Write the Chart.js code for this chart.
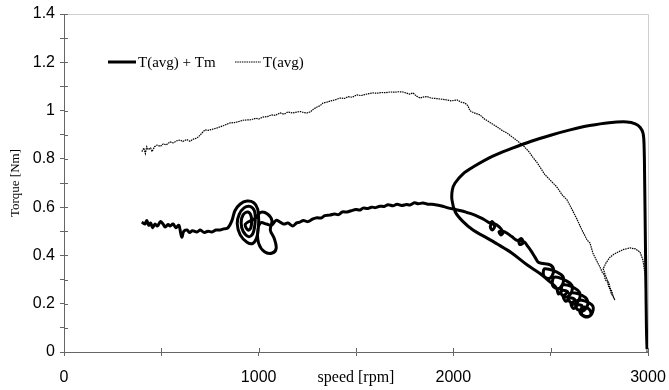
<!DOCTYPE html>
<html>
<head>
<meta charset="utf-8">
<script src="https://cdn.jsdelivr.net/npm/chart.js@4.4.1/dist/chart.umd.min.js"></script>
<style>
  html, body { margin: 0; padding: 0; background: #fff; }
  #torqueChart { display: block; }
</style>
</head>
<body>
<canvas id="torqueChart" width="669" height="390"></canvas>
<script>
// speed axis ticks (labels every 1000, marks every 500)
const speedTicks = [0, 500, 1000, 1500, 2000, 2500, 3000];
const speedLabels = ['0', '', '1000', 'speed [rpm]', '2000', '', '3000'];
// torque axis ticks (labels every 0.2, marks every 0.1)
const torqueLabels = ['0', '0.2', '0.4', '0.6', '0.8', '1', '1.2', '1.4'];

// T(avg) + Tm, run-up trace
const sumRpm = [
  400, 415, 425, 435, 445, 455, 467, 480, 495, 509, 520, 535, 545, 560, 575, 590, 600, 606, 615, 632,
  645, 660, 683, 700, 720, 740, 760, 780, 801, 820, 842,
  // first spiral
  863, 878, 904, 940, 975, 995, 1000, 992, 970, 940, 905, 890, 900, 925, 955, 978, 982, 970, 948, 920,
  910, 920, 945, 962, 960, 945, 932,
  // second loop
  985, 1010, 1045, 1068, 1060, 1080, 1090, 1070, 1030, 1000, 995, 1010, 1040, 1065, 1090, 1110,
  1130, 1150, 1176, 1195, 1212, 1230, 1250, 1279, 1300, 1320, 1340, 1366, 1390, 1410, 1430, 1454,
  1475, 1500, 1520, 1536, 1560, 1580, 1600, 1623, 1645, 1665, 1690, 1711, 1735, 1760, 1777, 1800,
  1820, 1844, 1870, 1890, 1916, 1940, 1960, 1983, 2010, 2040, 2070, 2101, 2130, 2160, 2188,
  2200, 2212, 2200, 2190, 2205, 2225, 2245, 2255, 2245, 2235, 2255, 2280, 2300, 2330,
  2350, 2358, 2342, 2338, 2365, 2380, 2400, 2420, 2440,
  // knotted descent
  2500, 2515, 2495, 2465, 2470, 2555, 2565, 2540, 2510, 2520, 2600, 2610, 2585, 2555, 2565,
  2640, 2650, 2625, 2595, 2605, 2680, 2690, 2665, 2632, 2642, 2712, 2715, 2690, 2660, 2668,
  2700, 2705, 2675, 2650, 2662, 2640, 2618, 2605, 2625, 2600, 2578, 2565, 2588, 2560, 2540,
  2530, 2490,
  // big loop back up and the drop at 3000
  2445, 2380, 2300, 2230, 2160, 2101, 2050, 2010, 1993, 1995, 2009, 2050, 2101, 2200, 2300, 2400,
  2500, 2600, 2700, 2800, 2892, 2935, 2960, 2975, 2980, 2983, 2986, 2989, 2992, 2995
];
const sumNm = [
  0.538, 0.530, 0.545, 0.525, 0.534, 0.515, 0.530, 0.522, 0.540, 0.530, 0.518, 0.528, 0.522, 0.530,
  0.515, 0.525, 0.490, 0.476, 0.500, 0.505, 0.495, 0.502, 0.497, 0.505, 0.495, 0.500, 0.497, 0.505,
  0.505, 0.510, 0.514,
  0.545, 0.585, 0.612, 0.625, 0.618, 0.592, 0.540, 0.480, 0.450, 0.455, 0.485, 0.530, 0.570, 0.597,
  0.603, 0.585, 0.540, 0.490, 0.478, 0.500, 0.535, 0.568, 0.580, 0.560, 0.515, 0.505, 0.530,
  0.555, 0.578, 0.572, 0.545, 0.505, 0.470, 0.430, 0.410, 0.415, 0.450, 0.500, 0.535, 0.530, 0.525,
  0.545, 0.538,
  0.530, 0.534, 0.522, 0.535, 0.538, 0.545, 0.540, 0.551, 0.556, 0.555, 0.565, 0.567, 0.572, 0.569,
  0.580, 0.580, 0.585, 0.590, 0.588, 0.596, 0.594, 0.600, 0.598, 0.604, 0.603, 0.610, 0.606, 0.612,
  0.607, 0.611, 0.609, 0.618, 0.614, 0.617, 0.612, 0.612, 0.609, 0.605, 0.600, 0.595, 0.590, 0.585,
  0.578, 0.570, 0.560, 0.548, 0.534,
  0.540, 0.520, 0.505, 0.520, 0.532, 0.525, 0.510, 0.495, 0.485, 0.498, 0.500, 0.490, 0.478, 0.462,
  0.470, 0.452, 0.445, 0.458, 0.455, 0.440, 0.418, 0.392, 0.370,
  0.360, 0.335, 0.305, 0.315, 0.345, 0.320, 0.290, 0.262, 0.275, 0.310, 0.285, 0.255, 0.228, 0.240,
  0.278, 0.255, 0.225, 0.198, 0.212, 0.245, 0.225, 0.195, 0.170, 0.182, 0.215, 0.195, 0.165, 0.145,
  0.155, 0.185,
  0.175, 0.152, 0.148, 0.165, 0.190, 0.195, 0.180, 0.200, 0.215, 0.225, 0.210, 0.232, 0.248, 0.255,
  0.240, 0.265, 0.295,
  0.325, 0.360, 0.410, 0.445, 0.478, 0.505, 0.540, 0.580, 0.630, 0.672, 0.700, 0.738, 0.766, 0.810,
  0.843, 0.873, 0.898, 0.920, 0.938, 0.950, 0.953, 0.945, 0.930, 0.905, 0.850, 0.700, 0.500, 0.300,
  0.100, 0.012
];

// T(avg)
const avgRpm = [
  400, 410, 418, 425, 432, 445, 452, 465, 478, 495, 510, 525, 545, 560, 580, 596, 610, 630, 647, 665,
  683, 695, 709, 724, 740, 760, 786, 800, 820, 853, 875, 900, 920, 940, 960, 985, 1000, 1022, 1045,
  1065, 1085, 1110, 1130, 1150, 1175, 1197, 1215, 1230, 1248, 1264, 1280, 1300, 1315, 1330, 1350,
  1370, 1395, 1418, 1440, 1460, 1480, 1505, 1525, 1545, 1565, 1587, 1610, 1630, 1655, 1675, 1700,
  1720, 1741, 1760, 1775, 1793, 1810, 1830, 1844, 1865, 1885, 1910, 1932, 1960, 1990, 2019, 2040,
  2060, 2075, 2085, 2096, 2115, 2137, 2160, 2190, 2220, 2250, 2276, 2300, 2320, 2342, 2365, 2390,
  2410, 2430, 2445, 2470, 2500, 2530, 2560, 2584, 2610, 2635, 2661, 2687, 2702, 2717, 2735, 2753,
  2765, 2775, 2780, 2792, 2798, 2805, 2812, 2820, 2830, 2822, 2815, 2805, 2800, 2790, 2780, 2770,
  2785, 2805, 2825, 2846, 2875, 2908, 2935, 2959, 2974, 2985, 2990, 2993, 2995
];
const avgNm = [
  0.830, 0.845, 0.822, 0.850, 0.838, 0.845, 0.830, 0.850, 0.857, 0.852, 0.862, 0.858, 0.870, 0.866,
  0.875, 0.878, 0.872, 0.880, 0.873, 0.882, 0.886, 0.895, 0.907, 0.920, 0.918, 0.922, 0.928, 0.932,
  0.938, 0.949, 0.950, 0.955, 0.960, 0.961, 0.962, 0.968, 0.965, 0.973, 0.975, 0.982, 0.980, 0.990,
  0.985, 0.994, 0.990, 0.994, 0.996, 0.992, 0.990, 0.994, 1.005, 1.015, 1.020, 1.031, 1.035, 1.040,
  1.045, 1.052, 1.050, 1.058, 1.055, 1.065, 1.062, 1.066, 1.070, 1.073, 1.072, 1.075, 1.074, 1.077,
  1.076, 1.078, 1.077, 1.072, 1.068, 1.073, 1.060, 1.052, 1.056, 1.058, 1.052, 1.050, 1.048, 1.045,
  1.040, 1.044, 1.035, 1.031, 1.020, 1.000, 0.994, 0.988, 0.982, 0.965, 0.950, 0.935, 0.918, 0.907,
  0.892, 0.880, 0.866, 0.850, 0.828, 0.805, 0.785, 0.766, 0.735, 0.710, 0.685, 0.650, 0.630, 0.590,
  0.550, 0.505, 0.464, 0.451, 0.410, 0.380, 0.352, 0.330, 0.320, 0.300, 0.290, 0.270, 0.260, 0.240,
  0.232, 0.215, 0.228, 0.250, 0.265, 0.285, 0.300, 0.320, 0.345, 0.370, 0.393, 0.405, 0.414, 0.425,
  0.431, 0.427, 0.414, 0.381, 0.320, 0.200, 0.080, 0.000
];

const toPoints = (xs, ys) => xs.map((x, i) => ({ x: x, y: ys[i] }));

// light frame plus tick marks reaching into the plot
const axisMarks = {
  id: 'axisMarks',
  beforeDatasetsDraw(chart) {
    const { ctx, chartArea: a, scales } = chart;
    ctx.save();
    ctx.lineWidth = 1;
    ctx.strokeStyle = '#cfcfcf';
    ctx.beginPath();
    ctx.moveTo(a.left, a.top + 0.5);
    ctx.lineTo(a.right + 0.5, a.top + 0.5);
    ctx.lineTo(a.right + 0.5, a.bottom);
    ctx.stroke();
    ctx.strokeStyle = '#666';
    ctx.beginPath();
    scales.x.ticks.forEach(t => {
      const px = Math.round(scales.x.getPixelForValue(t.value)) + 0.5;
      ctx.moveTo(px, a.bottom);
      ctx.lineTo(px, a.bottom - 4);
    });
    scales.y.ticks.forEach(t => {
      const py = Math.round(scales.y.getPixelForValue(t.value)) + 0.5;
      ctx.moveTo(a.left, py);
      ctx.lineTo(a.left + 4, py);
    });
    ctx.stroke();
    ctx.restore();
  }
};

// legend drawn inside the plot, top left
const innerLegend = {
  id: 'innerLegend',
  afterDraw(chart) {
    const ctx = chart.ctx;
    const slots = [{ x: 108, w: 28 }, { x: 235, w: 26 }];
    const y = 62;
    ctx.save();
    ctx.font = '15px "Liberation Serif", "Times New Roman", serif';
    ctx.textBaseline = 'middle';
    chart.data.datasets.forEach((ds, i) => {
      const s = slots[i];
      ctx.strokeStyle = ds.borderColor;
      ctx.lineWidth = ds.borderWidth;
      ctx.setLineDash(ds.borderDash || []);
      ctx.beginPath();
      ctx.moveTo(s.x, y);
      ctx.lineTo(s.x + s.w, y);
      ctx.stroke();
      ctx.fillStyle = '#000';
      ctx.fillText(ds.label, s.x + s.w + 2, y + 1);
    });
    ctx.restore();
  }
};

const sansTick = { family: '"Liberation Sans", Arial, sans-serif', size: 16 };
const serifTitle = { family: '"Liberation Serif", "Times New Roman", serif', size: 16 };

new Chart(document.getElementById('torqueChart'), {
  type: 'scatter',
  data: {
    datasets: [
      {
        label: 'T(avg) + Tm',
        data: toPoints(sumRpm, sumNm),
        showLine: true,
        borderColor: '#000',
        borderWidth: 3,
        pointRadius: 0,
        tension: 0.35
      },
      {
        label: 'T(avg)',
        data: toPoints(avgRpm, avgNm),
        showLine: true,
        borderColor: '#000',
        borderWidth: 1.2,
        borderDash: [1.5, 0.8],
        pointRadius: 0,
        tension: 0
      }
    ]
  },
  options: {
    responsive: false,
    animation: false,
    devicePixelRatio: 1,
    layout: { padding: { top: 14, right: 21, left: 0, bottom: 0 } },
    plugins: {
      legend: { display: false },
      tooltip: { enabled: false }
    },
    scales: {
      x: {
        type: 'linear',
        min: 0,
        max: 3000,
        afterBuildTicks: scale => { scale.ticks = speedTicks.map(v => ({ value: v })); },
        afterFit: scale => {
          scale.height = 38;
          scale.paddingLeft = 0;
          scale.paddingRight = 0;
        },
        grid: { drawOnChartArea: false, tickLength: 4, color: '#666' },
        border: { color: '#666' },
        ticks: {
          autoSkip: false,
          maxRotation: 0,
          padding: 12,
          color: '#000',
          font: ctx => (ctx.tick && ctx.tick.value === 1500) ? serifTitle : sansTick,
          callback: (v, i) => speedLabels[i]
        }
      },
      y: {
        type: 'linear',
        min: 0,
        max: 1.4,
        afterBuildTicks: scale => {
          const t = [];
          for (let k = 0; k <= 14; k++) t.push({ value: k / 10 });
          scale.ticks = t;
        },
        afterFit: scale => {
          scale.width = 64;
          scale.paddingTop = 0;
          scale.paddingBottom = 0;
        },
        grid: { drawOnChartArea: false, tickLength: 4, color: '#666' },
        border: { color: '#666' },
        title: {
          display: true,
          text: 'Torque [Nm]',
          color: '#000',
          font: { family: '"Liberation Serif", "Times New Roman", serif', size: 13 },
          padding: { top: 8, bottom: 0 }
        },
        ticks: {
          autoSkip: false,
          padding: 5,
          color: '#000',
          font: sansTick,
          callback: (v, i) => (i % 2 === 0 ? torqueLabels[i / 2] : '')
        }
      }
    }
  },
  plugins: [axisMarks, innerLegend]
});
</script>
</body>
</html>
